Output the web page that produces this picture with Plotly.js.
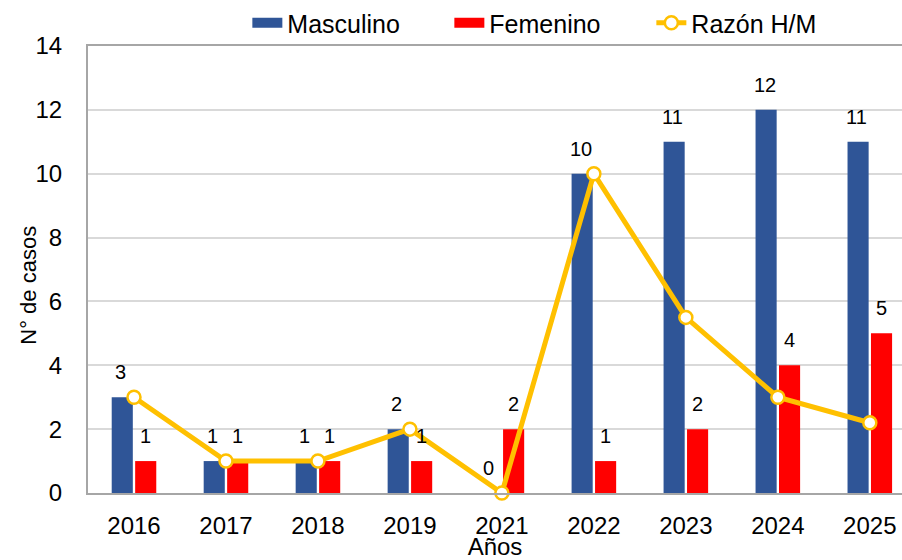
<!DOCTYPE html>
<html>
<head>
<meta charset="utf-8">
<script src="https://cdn.plot.ly/plotly-3.0.1.min.js"></script>
<style>
  html, body { margin: 0; padding: 0; background: #fff; }
  #chart { width: 902px; height: 560px; }
</style>
</head>
<body>
<div id="chart"></div>
<script>
const years = ['2016', '2017', '2018', '2019', '2021', '2022', '2023', '2024', '2025']
const masculino = [3, 1, 1, 2, 0, 10, 11, 12, 11]
const femenino = [1, 1, 1, 1, 2, 1, 2, 4, 5]
const razon = [3, 1, 1, 2, 0, 10, 5.5, 3, 2.2]

const font = 'Liberation Sans, Arial, sans-serif'
const blue = '#2F5597'
const red = '#FF0000'
const yellow = '#FFC000'

// bars (legend drawn by the wide swatch traces below)
const traceM = {
  x: years,
  y: masculino,
  type: 'bar',
  name: 'Masculino',
  showlegend: false,
  marker: { color: blue },
}

const traceF = {
  x: years,
  y: femenino,
  type: 'bar',
  name: 'Femenino',
  showlegend: false,
  marker: { color: red },
}

const traceR = {
  x: years,
  y: razon,
  type: 'scatter',
  mode: 'lines+markers',
  name: 'Razón H/M',
  showlegend: false,
  line: { color: yellow, width: 5 },
  marker: { color: '#FFFFFF', size: 13, line: { color: yellow, width: 2.5 } },
  cliponaxis: false,
}

// legend-only entries, so the swatches are wide like the original
const legendM = { x: [years[0]], y: [null], type: 'scatter', mode: 'lines', name: 'Masculino', line: { color: blue, width: 12 } }
const legendF = { x: [years[0]], y: [null], type: 'scatter', mode: 'lines', name: 'Femenino', line: { color: red, width: 12 } }
const legendR = {
  x: [years[0]], y: [null], type: 'scatter', mode: 'lines+markers', name: 'Razón H/M',
  line: { color: yellow, width: 5 },
  marker: { color: '#FFFFFF', size: 13, line: { color: yellow, width: 2.5 } },
}

// value labels sit a bit above the bars, as in the original
// (year strings look numeric, so annotations use the category index)
const labelFont = { family: font, size: 20, color: '#000' }
const barLabels = []
years.forEach((yr, i) => {
  barLabels.push({ x: i, y: masculino[i], text: String(masculino[i]), xshift: -13, yshift: 12,
    yanchor: 'bottom', showarrow: false, font: labelFont })
  barLabels.push({ x: i, y: femenino[i], text: String(femenino[i]), xshift: 12, yshift: 12,
    yanchor: 'bottom', showarrow: false, font: labelFont })
})

const yTitle = {
  xref: 'paper', yref: 'paper', x: -0.073, y: 0.465,
  xanchor: 'center', yanchor: 'middle',
  text: 'N° de casos', textangle: -90, showarrow: false,
  font: { family: font, size: 22, color: '#000' },
}

const layout = {
  width: 902,
  height: 560,
  margin: { l: 88, r: 0, t: 46, b: 67 },
  paper_bgcolor: '#fff',
  plot_bgcolor: '#fff',
  font: { family: font, size: 24, color: '#000' },
  barmode: 'group',
  bargap: 0.49,
  bargroupgap: 0.1,
  showlegend: true,
  legend: {
    orientation: 'h',
    x: 0.568,
    xanchor: 'center',
    y: 1.0,
    yanchor: 'bottom',
    bgcolor: 'rgba(0,0,0,0)',
    font: { family: font, size: 25, color: '#000' },
    traceorder: 'normal',
    itemwidth: 30,
    entrywidth: 157,
  },
  annotations: barLabels.concat([yTitle]),
  xaxis: {
    type: 'category',
    range: [-0.5, 8.35],
    showline: true,
    mirror: true,
    linecolor: '#A6A6A6',
    linewidth: 2,
    showgrid: false,
    ticks: 'outside',
    ticklen: 10,
    tickcolor: 'rgba(0,0,0,0)',
    tickfont: { family: font, size: 24, color: '#000' },
    title: { text: 'Años', font: { family: font, size: 24, color: '#000' }, standoff: 5 },
  },
  yaxis: {
    range: [0, 14],
    dtick: 2,
    showline: true,
    linecolor: '#A6A6A6',
    linewidth: 2,
    gridcolor: '#D9D9D9',
    gridwidth: 2,
    zeroline: false,
    ticks: 'outside',
    ticklen: 19,
    tickcolor: 'rgba(0,0,0,0)',
    tickfont: { family: font, size: 24, color: '#000' },
  },
}

Plotly.newPlot('chart', [traceM, traceF, traceR, legendM, legendF, legendR], layout, { displayModeBar: false, staticPlot: true })
</script>
</body>
</html>
